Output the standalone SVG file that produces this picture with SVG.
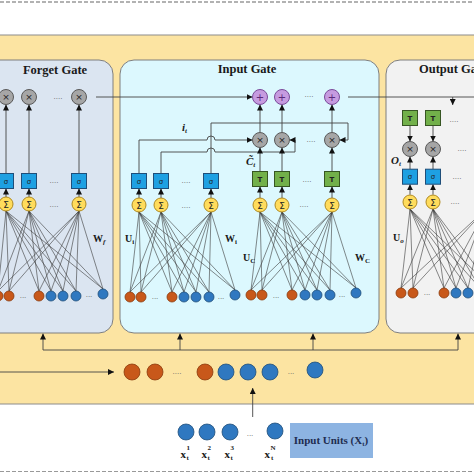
<svg xmlns="http://www.w3.org/2000/svg" width="474" height="474" viewBox="0 0 474 474">
<defs>
<marker id="ah" viewBox="0 0 10 10" refX="10" refY="5" markerWidth="6" markerHeight="6" markerUnits="userSpaceOnUse" orient="auto"><path d="M0,0 L10,5 L0,10 z" fill="#111"/></marker>
<style>
.ttl{font-family:"Liberation Serif",serif;font-weight:bold;font-size:12.5px;fill:#1a1a1a}
.lbl{font-family:"Liberation Serif",serif;font-weight:bold;font-size:10px;fill:#1a1a1a}
.lbi{font-family:"Liberation Serif",serif;font-weight:bold;font-style:italic;font-size:11px;fill:#1a1a1a}
.dots{font-family:"Liberation Sans",sans-serif;font-size:8px;fill:#666;text-anchor:middle}
.sym{font-family:"DejaVu Sans",sans-serif;text-anchor:middle;fill:#222}
.mul{fill:#a6a6a6;stroke:#595959;stroke-width:1}
.add{fill:#c69be0;stroke:#7a4a9a;stroke-width:1}
.sum{fill:#ffdc5c;stroke:#b08a20;stroke-width:1}
.sig{fill:#1ea0e2;stroke:#1f4e79;stroke-width:1}
.tan{fill:#72b04a;stroke:#375623;stroke-width:1}
.or{fill:#c8581a;stroke:#8a3a0c;stroke-width:0.8}
.bl{fill:#2f78c0;stroke:#1f4e79;stroke-width:0.8}
.fan{fill:none;stroke:#3a3a3a;stroke-width:0.6}
.con{fill:none;stroke:#444;stroke-width:0.9}
.arr{fill:none;stroke:#444;stroke-width:0.9;marker-end:url(#ah)}
.xl{font-family:"Liberation Serif",serif;font-weight:bold;font-size:11px;fill:#1a1a1a;text-anchor:end}
.xs{font-family:"Liberation Serif",serif;font-weight:bold;font-size:7px;fill:#1a1a1a}
.plus{font-family:"DejaVu Sans",sans-serif;text-anchor:middle;fill:#5a2a7a;font-size:10px}
</style>
</defs>
<rect width="474" height="474" fill="#fff"/>
<line x1="0" y1="2" x2="474" y2="2" stroke="#999" stroke-width="1.5" stroke-dasharray="4 2"/>
<line x1="0" y1="471.5" x2="474" y2="471.5" stroke="#999" stroke-width="1.2" stroke-dasharray="4 2"/>
<rect id="lstm-bg" x="-5" y="35" width="484" height="369" fill="#fce4a2" stroke="#8c8c8c" stroke-width="1"/>
<rect id="forget-panel" x="-20" y="60" width="133" height="273" rx="14" fill="#dbe5f1" stroke="#7f7f7f" stroke-width="1"/>
<rect id="input-panel" x="120" y="60" width="259" height="273" rx="14" fill="#dcf8fe" stroke="#7f7f7f" stroke-width="1"/>
<rect id="output-panel" x="386" y="60" width="110" height="273" rx="14" fill="#f2f2f2" stroke="#7f7f7f" stroke-width="1"/>
<text class="ttl" x="55" y="74" text-anchor="middle">Forget Gate</text>
<text class="ttl" x="247" y="73" text-anchor="middle">Input Gate</text>
<text class="ttl" x="419" y="73">Output Gate</text>

<g id="connectors">
<path class="fan" d="M6 211L-2 291M6 211L9 291M6 211L39 291M6 211L51 291M6 211L63 291M6 211L76 291M6 211L103 289"/>
<path class="fan" d="M29 211L-2 291M29 211L9 291M29 211L39 291M29 211L51 291M29 211L63 291M29 211L76 291M29 211L103 289"/>
<path class="fan" d="M79 211L-2 291M79 211L9 291M79 211L39 291M79 211L51 291M79 211L63 291M79 211L76 291M79 211L103 289"/>
<path class="fan" d="M139 212L130 292M139 212L141 292M139 212L172 292M139 212L184 292M139 212L196 292M139 212L209 292M139 212L235 290"/>
<path class="fan" d="M161 212L130 292M161 212L141 292M161 212L172 292M161 212L184 292M161 212L196 292M161 212L209 292M161 212L235 290"/>
<path class="fan" d="M211 212L130 292M211 212L141 292M211 212L172 292M211 212L184 292M211 212L196 292M211 212L209 292M211 212L235 290"/>
<path class="fan" d="M260 212L251 290M260 212L262 290M260 212L292 290M260 212L305 290M260 212L317 290M260 212L330 290M260 212L356 288"/>
<path class="fan" d="M282 212L251 290M282 212L262 290M282 212L292 290M282 212L305 290M282 212L317 290M282 212L330 290M282 212L356 288"/>
<path class="fan" d="M332 212L251 290M332 212L262 290M332 212L292 290M332 212L305 290M332 212L317 290M332 212L330 290M332 212L356 288"/>
<path class="fan" d="M410 209L401 288M410 209L413 288M410 209L444 288M410 209L456 288M410 209L468 288M410 209L480 288M410 209L492 288"/>
<path class="fan" d="M433 209L401 288M433 209L413 288M433 209L444 288M433 209L456 288M433 209L468 288M433 209L480 288M433 209L492 288"/>
<path class="fan" d="M486 209L401 288M486 209L413 288M486 209L444 288M486 209L456 288M486 209L468 288"/>
<path class="arr" d="M6 197V188.5"/><path class="arr" d="M29 197V188.5"/><path class="arr" d="M79 197V188.5"/>
<path class="arr" d="M139 198V188.5"/><path class="arr" d="M161 198V188.5"/><path class="arr" d="M211 198V188.5"/>
<path class="arr" d="M260 198V186.5"/><path class="arr" d="M282 198V186.5"/><path class="arr" d="M332 198V186.5"/>
<path class="arr" d="M410 194.7V184.2"/><path class="arr" d="M433 194.7V184.2"/>
<path class="arr" d="M6 173.5V104.5"/><path class="arr" d="M29 173.5V104.5"/><path class="arr" d="M79 173.5V104.5"/>
<path class="arr" d="M96 97H252.5"/>
<path class="con" d="M348 97H480"/>
<path class="arr" d="M452.7 97V105"/>
<path class="arr" d="M139 173.5V140H207a4 4 0 0 1 8 0H252.5"/>
<path class="arr" d="M161 173.5V152H207a4 4 0 0 1 8 0H295V140H289.5"/>
<path class="arr" d="M211 173.5V123H348V140H339.5"/>
<path class="arr" d="M260 171.5V147.5"/><path class="arr" d="M282 171.5V147.5"/><path class="arr" d="M332 171.5V147.5"/>
<path class="arr" d="M260 132.5V104.5"/><path class="arr" d="M282 132.5V104.5"/><path class="arr" d="M332 132.5V104.5"/>
<path class="arr" d="M410 125.5V141.5"/><path class="arr" d="M433 125.5V141.5"/>
<path class="arr" d="M410 169.2V156.5"/><path class="arr" d="M433 169.2V156.5"/>
<path class="con" d="M43 350H458"/>
<path class="arr" d="M43 350V333.5"/><path class="arr" d="M180 350V333.5"/><path class="arr" d="M313 350V333.5"/><path class="arr" d="M458 350V333.5"/>
<path class="arr" d="M0 372H114"/>
<path class="arr" d="M252.7 417V388"/>
</g>

<g id="f-mul">
<circle class="mul" cx="6" cy="97" r="7.5"/><circle class="mul" cx="29" cy="97" r="7.5"/><circle class="mul" cx="79" cy="97" r="7.5"/>
<text class="sym" font-size="9" x="6" y="100">×</text><text class="sym" font-size="9" x="29" y="100">×</text><text class="sym" font-size="9" x="79" y="100">×</text>
<text class="dots" x="58" y="99">....</text>
</g>
<g id="f-sig">
<rect class="sig" x="-1.5" y="173.5" width="15" height="15"/><rect class="sig" x="21.5" y="173.5" width="15" height="15"/><rect class="sig" x="71.5" y="173.5" width="15" height="15"/>
<text class="sym" font-size="7" x="6" y="183.5">σ</text><text class="sym" font-size="7" x="29" y="183.5">σ</text><text class="sym" font-size="7" x="79" y="183.5">σ</text>
<text class="dots" x="54" y="183">....</text>
</g>
<g id="f-sum">
<circle class="sum" cx="6" cy="204" r="7"/><circle class="sum" cx="29" cy="204" r="7"/><circle class="sum" cx="79" cy="204" r="7"/>
<text class="sym" font-size="9" x="6" y="207.5">Σ</text><text class="sym" font-size="9" x="29" y="207.5">Σ</text><text class="sym" font-size="9" x="79" y="207.5">Σ</text>
<text class="dots" x="54" y="207">....</text>
</g>
<g id="f-in">
<circle class="or" cx="-2" cy="296" r="5"/><circle class="or" cx="9" cy="296" r="5"/><circle class="or" cx="39" cy="296" r="5"/>
<circle class="bl" cx="51" cy="296" r="5"/><circle class="bl" cx="63" cy="296" r="5"/><circle class="bl" cx="76" cy="296" r="5"/><circle class="bl" cx="103" cy="294" r="5"/>
<text class="dots" x="23" y="298">...</text><text class="dots" x="89" y="297">...</text>
</g>
<text class="lbl" x="93" y="242">W<tspan font-size="7" font-style="italic" dy="2">f</tspan></text>

<g id="i-add">
<circle class="add" cx="260" cy="97" r="7.5"/><circle class="add" cx="282" cy="97" r="7.5"/><circle class="add" cx="332" cy="97" r="7.5"/>
<text class="plus" x="260" y="100.5">+</text><text class="plus" x="282" y="100.5">+</text><text class="plus" x="332" y="100.5">+</text>
<text class="dots" x="309" y="97">....</text>
</g>
<g id="i-mul">
<circle class="mul" cx="260" cy="140" r="7.5"/><circle class="mul" cx="282" cy="140" r="7.5"/><circle class="mul" cx="332" cy="140" r="7.5"/>
<text class="sym" font-size="9" x="260" y="143">×</text><text class="sym" font-size="9" x="282" y="143">×</text><text class="sym" font-size="9" x="332" y="143">×</text>
<text class="dots" x="311" y="142">....</text>
</g>
<g id="i-sig">
<rect class="sig" x="131.5" y="173.5" width="15" height="15"/><rect class="sig" x="153.5" y="173.5" width="15" height="15"/><rect class="sig" x="203.5" y="173.5" width="15" height="15"/>
<text class="sym" font-size="7" x="139" y="183.5">σ</text><text class="sym" font-size="7" x="161" y="183.5">σ</text><text class="sym" font-size="7" x="211" y="183.5">σ</text>
<text class="dots" x="186" y="183">....</text>
</g>
<g id="i-tanh">
<rect class="tan" x="252.5" y="171.5" width="15" height="15"/><rect class="tan" x="274.5" y="171.5" width="15" height="15"/><rect class="tan" x="324.5" y="171.5" width="15" height="15"/>
<text class="sym" font-size="7" font-weight="bold" x="260" y="181.5">T</text><text class="sym" font-size="7" font-weight="bold" x="282" y="181.5">T</text><text class="sym" font-size="7" font-weight="bold" x="332" y="181.5">T</text>
<text class="dots" x="307" y="182">....</text>
</g>
<g id="i-sum">
<circle class="sum" cx="139" cy="205" r="7"/><circle class="sum" cx="161" cy="205" r="7"/><circle class="sum" cx="211" cy="205" r="7"/>
<circle class="sum" cx="260" cy="205" r="7"/><circle class="sum" cx="282" cy="205" r="7"/><circle class="sum" cx="332" cy="205" r="7"/>
<text class="sym" font-size="9" x="139" y="208.5">Σ</text><text class="sym" font-size="9" x="161" y="208.5">Σ</text><text class="sym" font-size="9" x="211" y="208.5">Σ</text>
<text class="sym" font-size="9" x="260" y="208.5">Σ</text><text class="sym" font-size="9" x="282" y="208.5">Σ</text><text class="sym" font-size="9" x="332" y="208.5">Σ</text>
<text class="dots" x="186" y="208">....</text><text class="dots" x="304" y="207">....</text>
</g>
<g id="i-in">
<circle class="or" cx="130" cy="297" r="5"/><circle class="or" cx="141" cy="297" r="5"/><circle class="or" cx="172" cy="297" r="5"/>
<circle class="bl" cx="184" cy="297" r="5"/><circle class="bl" cx="196" cy="297" r="5"/><circle class="bl" cx="209" cy="297" r="5"/><circle class="bl" cx="235" cy="295" r="5"/>
<circle class="or" cx="251" cy="295" r="5"/><circle class="or" cx="262" cy="295" r="5"/><circle class="or" cx="292" cy="295" r="5"/>
<circle class="bl" cx="305" cy="295" r="5"/><circle class="bl" cx="317" cy="295" r="5"/><circle class="bl" cx="330" cy="295" r="5"/><circle class="bl" cx="356" cy="293" r="5"/>
<text class="dots" x="155" y="299">...</text><text class="dots" x="221" y="299">...</text><text class="dots" x="276" y="298">...</text><text class="dots" x="342" y="297">...</text>
</g>
<text class="lbi" x="182" y="131">i<tspan font-size="7" dy="2">t</tspan></text>
<text class="lbi" x="246" y="165">C̃<tspan font-size="7" dy="2">t</tspan></text>
<text class="lbl" x="125" y="242">U<tspan font-size="7" dy="2">i</tspan></text>
<text class="lbl" x="225" y="242">W<tspan font-size="7" dy="2">i</tspan></text>
<text class="lbl" x="243" y="261">U<tspan font-size="7" dy="2">C</tspan></text>
<text class="lbl" x="355" y="261">W<tspan font-size="7" dy="2">C</tspan></text>

<g id="o-tanh">
<rect class="tan" x="402.5" y="110.5" width="15" height="15"/><rect class="tan" x="425.5" y="110.5" width="15" height="15"/>
<text class="sym" font-size="7" font-weight="bold" x="410" y="120.5">T</text><text class="sym" font-size="7" font-weight="bold" x="433" y="120.5">T</text>
<text class="dots" x="454" y="122">....</text>
</g>
<g id="o-mul">
<circle class="mul" cx="410" cy="149" r="7.5"/><circle class="mul" cx="433" cy="149" r="7.5"/>
<text class="sym" font-size="9" x="410" y="152">×</text><text class="sym" font-size="9" x="433" y="152">×</text>
<text class="dots" x="462" y="151">....</text>
</g>
<g id="o-sig">
<rect class="sig" x="402.5" y="169.2" width="15" height="15"/><rect class="sig" x="425.5" y="169.2" width="15" height="15"/>
<text class="sym" font-size="7" x="410" y="179.2">σ</text><text class="sym" font-size="7" x="433" y="179.2">σ</text>
<text class="dots" x="457" y="179">....</text>
</g>
<g id="o-sum">
<circle class="sum" cx="410" cy="202" r="7"/><circle class="sum" cx="433" cy="202" r="7"/>
<text class="sym" font-size="9" x="410" y="205.5">Σ</text><text class="sym" font-size="9" x="433" y="205.5">Σ</text>
<text class="dots" x="455" y="204">....</text>
</g>
<g id="o-in">
<circle class="or" cx="401" cy="293" r="5"/><circle class="or" cx="413" cy="293" r="5"/><circle class="or" cx="444" cy="293" r="5"/>
<circle class="bl" cx="456" cy="293" r="5"/><circle class="bl" cx="468" cy="293" r="5"/>
<text class="dots" x="427" y="295">...</text>
</g>
<text class="lbi" x="391" y="164">O<tspan font-size="7" dy="2">t</tspan></text>
<text class="lbl" x="393" y="241">U<tspan font-size="7" font-style="italic" dy="2">o</tspan></text>

<g id="concat-row">
<circle class="or" cx="132" cy="372" r="8"/><circle class="or" cx="155" cy="372" r="8"/><circle class="or" cx="205" cy="372" r="8"/>
<circle class="bl" cx="226" cy="372" r="8"/><circle class="bl" cx="248" cy="372" r="8"/><circle class="bl" cx="270" cy="372" r="8"/><circle class="bl" cx="315" cy="370" r="8"/>
<text class="dots" x="177" y="374">....</text><text class="dots" x="291" y="374">...</text>
</g>

<g id="input-units">
<circle class="bl" cx="186" cy="432" r="8"/><circle class="bl" cx="207" cy="432" r="8"/><circle class="bl" cx="230" cy="432" r="8"/><circle class="bl" cx="275" cy="431" r="8"/>
<text class="dots" x="250" y="436">...</text>
<text class="xl" x="186" y="458">x</text><text class="xs" x="186.5" y="450">1</text><text class="xs" x="186.5" y="460">t</text>
<text class="xl" x="207" y="458">x</text><text class="xs" x="207.5" y="450">2</text><text class="xs" x="207.5" y="460">t</text>
<text class="xl" x="230" y="458">x</text><text class="xs" x="230.5" y="450">3</text><text class="xs" x="230.5" y="460">t</text>
<text class="xl" x="270" y="458">x</text><text class="xs" x="270.5" y="450">N</text><text class="xs" x="271" y="460">t</text>
</g>
<g id="input-units-label">
<rect x="290" y="423" width="83" height="35" fill="#8db4e2"/>
<text x="331" y="444" text-anchor="middle" style="font-family:'Liberation Serif',serif;font-weight:bold;font-size:11px;fill:#1f2d50">Input Units (X<tspan font-size="7" dy="2">t</tspan><tspan dy="-2">)</tspan></text>
</g>
</svg>
